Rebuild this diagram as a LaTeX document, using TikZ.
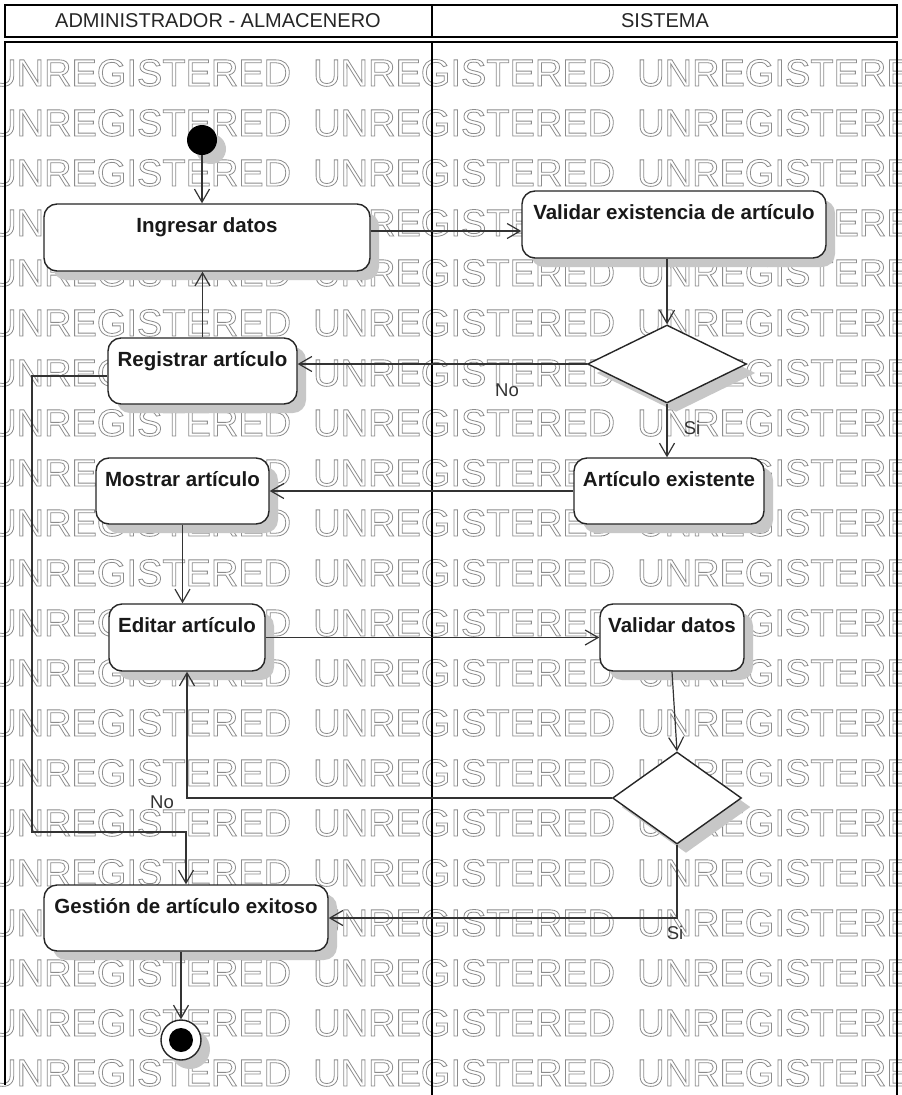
\documentclass[tikz,border=0pt]{standalone}
\usepackage{fontspec}
\setmainfont{Liberation Sans}
\usetikzlibrary{shapes.geometric,shadows,arrows.meta,calc}
\newcommand\wmword{\special{pdf:literal direct 1 Tr 0.8 w}UNREGISTERED\special{pdf:literal direct 0 Tr}}
\begin{document}
\begin{tikzpicture}[x=1pt,y=-1pt,
  lane/.style={line width=2.6pt,black},
  shad/.style={drop shadow={shadow xshift=9pt,shadow yshift=-9pt,fill=black!22,opacity=1}},
  act/.style={rectangle,draw=black!85,line width=1.4pt,rounded corners=13pt,fill=white,
    inner xsep=0pt,inner ysep=0pt,text height=28pt,
    font=\fontsize{20.5}{24}\selectfont\bfseries,text=black!90,shad},
  dec/.style={diamond,draw=black!85,line width=1.4pt,fill=white,inner sep=0pt,shad},
  arr/.style={draw=black!80,line width=1.2pt,-{Straight Barb[length=13pt,width=15pt,line width=1.2pt]}},
  lbl/.style={font=\fontsize{18.5}{20}\selectfont,text=black!80,inner sep=0pt},
  hdr/.style={font=\fontsize{20}{24}\selectfont,text=black!85,inner sep=0pt},
  wm/.style={font=\fontsize{38}{40}\selectfont,text=black!45,anchor=base west,inner sep=0pt}
]
\useasboundingbox (0,0) rectangle (902,1095);
\fill[white] (0,0) rectangle (902,1095);
% watermark
\begin{scope}
\clip (0,0) rectangle (902,1095);
\foreach \k in {0,...,20}{
  \foreach \xx [count=\j] in {-11,313,637}{
    \node[wm] (wm-\k-\j) at (\xx,86+50*\k) {\wmword};
  }
}
\end{scope}
% swimlanes
\draw[lane] (5,5) rectangle (897,37);
\draw[lane] (432,5) -- (432,37);
\draw[lane] (5,1085) -- (5,42) -- (897,42) -- (897,1095);
\draw[lane] (432,42) -- (432,1095);
\node[hdr] (h1) at (218,21) {ADMINISTRADOR - ALMACENERO};
\node[hdr] (h2) at (665,21) {SISTEMA};
% nodes
\node[circle,fill=black,minimum size=30pt,inner sep=0pt,shad] (init) at (202,140) {};
\node[act,minimum width=326pt,text depth=39pt] (ing) at (207,237.5) {Ingresar datos};
\node[act,minimum width=304pt,text depth=39pt] (valex) at (674,224.5) {Validar existencia de artículo};
\node[dec,minimum width=159pt,minimum height=78pt] (d1) at (667,364) {};
\node[act,minimum width=189pt,text depth=38pt] (reg) at (202.5,371) {Registrar artículo};
\node[act,minimum width=190pt,text depth=38pt] (artex) at (669,491) {Artículo existente};
\node[act,minimum width=173pt,text depth=38pt] (most) at (182.5,491) {Mostrar artículo};
\node[act,minimum width=156pt,text depth=39pt] (edit) at (187,637.5) {Editar artículo};
\node[act,minimum width=144pt,text depth=39pt] (valdat) at (672,637.5) {Validar datos};
\node[dec,minimum width=129pt,minimum height=92pt] (d2) at (677,798) {};
\node[act,minimum width=284pt,text depth=38pt] (gest) at (186,918) {Gestión de artículo exitoso};
\node[circle,draw=black!85,line width=1.4pt,fill=white,minimum size=40pt,inner sep=0pt,shad] (fin) at (181,1040) {};
\node[circle,fill=black,minimum size=24pt,inner sep=0pt] (findot) at (fin.center) {};
% connectors
\draw[arr] (init.south) -- (init.south |- ing.north);
\draw[arr] ([yshift=6.5pt]ing.east) coordinate (p1) -- (p1 -| valex.west);
\draw[arr] (valex.south -| d1.north) -- (d1.north);
\draw[arr] (d1.west) -- (d1.west -| reg.east);
\node[lbl] (no1) at (507,390) {No};
\draw[arr] (d1.south) -- (d1.south |- artex.north);
\node[lbl] (si1) at (692,428) {Si};
\draw[arr] (reg.north) -- (reg.north |- ing.south);
\draw[arr] (artex.west) -- (most.east);
\draw[arr] (most.south) -- (most.south |- edit.north);
\draw[arr] (edit.east) -- (valdat.west);
\draw[arr] (valdat.south) -- (d2.north);
\draw[arr] (d2.west) -| (edit.south);
\node[lbl] (no2) at (162,802) {No};
\draw[arr] (d2.south) |- (gest.east);
\node[lbl] (si2) at (675,933) {Si};
\coordinate (lp) at (32,832);
\draw[arr] ([yshift=-5pt]reg.west) -| (lp) -| (gest.north);
\draw[arr] (gest.south -| fin.north) -- (fin.north);
\end{tikzpicture}
\end{document}
